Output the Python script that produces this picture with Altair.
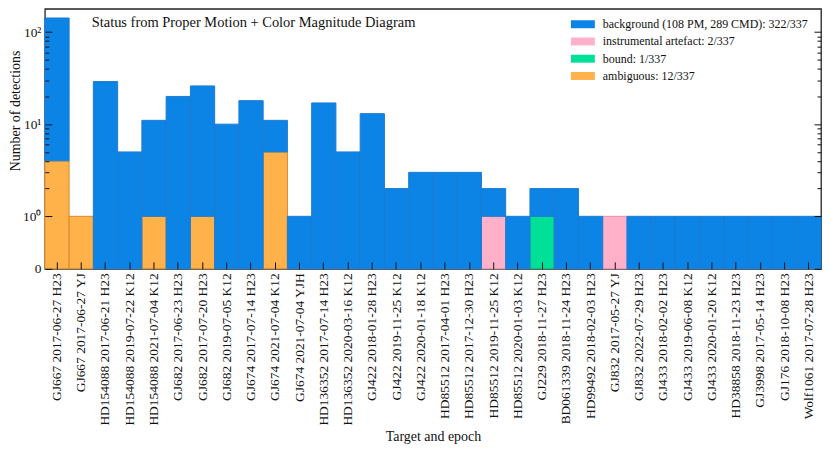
import math
import altair as alt
import pandas as pd

targets = [
    "GJ667 2017-06-27 H23", "GJ667 2017-06-27 YJ", "HD154088 2017-06-21 H23",
    "HD154088 2019-07-22 K12", "HD154088 2021-07-04 K12", "GJ682 2017-06-23 H23",
    "GJ682 2017-07-20 H23", "GJ682 2019-07-05 K12", "GJ674 2017-07-14 H23",
    "GJ674 2021-07-04 K12", "GJ674 2021-07-04 YJH", "HD136352 2017-07-14 H23",
    "HD136352 2020-03-16 K12", "GJ422 2018-01-28 H23", "GJ422 2019-11-25 K12",
    "GJ422 2020-01-18 K12", "HD85512 2017-04-01 H23", "HD85512 2017-12-30 H23",
    "HD85512 2019-11-25 K12", "HD85512 2020-01-03 K12", "GJ229 2018-11-27 H23",
    "BD061339 2018-11-24 H23", "HD99492 2018-02-03 H23", "GJ832 2017-05-27 YJ",
    "GJ832 2022-07-29 H23", "GJ433 2018-02-02 H23", "GJ433 2019-06-08 K12",
    "GJ433 2020-01-20 K12", "HD38858 2018-11-23 H23", "GJ3998 2017-05-14 H23",
    "GJ176 2018-10-08 H23", "Wolf1061 2017-07-28 H23",
]
background = [138, 0, 29, 5, 10, 20, 25, 10, 18, 6, 1, 17, 5, 13, 2, 3,
              3, 3, 1, 1, 1, 2, 1, 0, 1, 1, 1, 1, 1, 1, 1, 1]
instrumental = [0, 0, 0, 0, 0, 0, 0, 0, 0, 0, 0, 0, 0, 0, 0, 0,
                0, 0, 1, 0, 0, 0, 0, 1, 0, 0, 0, 0, 0, 0, 0, 0]
bound = [0, 0, 0, 0, 0, 0, 0, 0, 0, 0, 0, 0, 0, 0, 0, 0,
         0, 0, 0, 0, 1, 0, 0, 0, 0, 0, 0, 0, 0, 0, 0, 0]
ambiguous = [4, 1, 0, 0, 1, 0, 1, 0, 0, 5, 0, 0, 0, 0, 0, 0,
             0, 0, 0, 0, 0, 0, 0, 0, 0, 0, 0, 0, 0, 0, 0, 0]

labels = [
    "background (108 PM, 289 CMD): 322/337",
    "instrumental artefact: 2/337",
    "bound: 1/337",
    "ambiguous: 12/337",
]
fills = ["#0b84e6", "#ffb1ca", "#00e096", "#ffb14a"]
strokes = ["#1f7ad0", "#e093ad", "#14b070", "#d48a30"]
stack_order = {labels[3]: 0, labels[2]: 1, labels[1]: 2, labels[0]: 3}

rows = []
for i, t in enumerate(targets):
    for lab, series in zip(labels, [background, instrumental, bound, ambiguous]):
        if series[i] > 0:
            rows.append({"target": t, "status": lab, "count": series[i],
                         "ord": stack_order[lab]})
df = pd.DataFrame(rows)

A = 0.57  # linear part of symlog (0..1) relative to one decade
YTOP = 2.822
major = [0, A, A + 1, A + 2]
minor = [A + math.log10(v) for v in
         [2, 3, 4, 5, 6, 7, 8, 9, 20, 30, 40, 50, 60, 70, 80, 90]]

FONT = "Liberation Serif"
FS = 13.5
yscale = alt.Scale(domain=[0, YTOP], nice=False, zero=False)
label_expr = ("datum.value < 0.1 ? '0' : datum.value < %f ? '10⁰' : "
              "datum.value < %f ? '10¹' : '10²'" % (A + 0.5, A + 1.5))

base = alt.Chart(df).transform_stack(
    stack="count", as_=["lo", "hi"], groupby=["target"],
    sort=[alt.SortField("ord", order="ascending")],
).transform_calculate(
    ylo=f"datum.lo <= 1 ? datum.lo * {A} : {A} + log(datum.lo) / LN10",
    yhi=f"datum.hi <= 1 ? datum.hi * {A} : {A} + log(datum.hi) / LN10",
)

bars = base.mark_bar(strokeWidth=1).encode(
    x=alt.X("target:N", sort=targets,
            scale=alt.Scale(paddingInner=0, paddingOuter=0),
            axis=alt.Axis(title="Target and epoch", labelAngle=270,
                          tickSize=7, offset=-7, labelPadding=4,
                          domain=False, tickColor="#111",
                          titleY=175, titleBaseline="middle",
                          labelFontSize=FS, titleFontSize=14, zindex=2)),
    y=alt.Y("yhi:Q", scale=yscale,
            axis=alt.Axis(orient="left", values=major, labelExpr=label_expr,
                          tickSize=7, offset=-7, labelPadding=4, domain=False,
                          grid=False, tickColor="#111",
                          title="Number of detections", titleY=102,
                          titlePadding=0, labelFontSize=FS,
                          titleFontSize=14, zindex=2)),
    y2="ylo:Q",
    color=alt.Color("status:N", sort=labels,
                    scale=alt.Scale(domain=labels, range=fills),
                    legend=alt.Legend(title=None, orient="none",
                                      legendX=534, legendY=9.5,
                                      symbolType="M-3,-1H3V1H-3Z",
                                      symbolSize=64, labelOffset=14,
                                      rowPadding=5.3, padding=0,
                                      labelFontSize=12, labelFont=FONT,
                                      labelColor="#111",
                                      symbolStrokeWidth=0,
                                      symbolOpacity=1, labelLimit=400)),
    stroke=alt.Stroke("status:N", scale=alt.Scale(domain=labels, range=strokes),
                      legend=None),
    order=alt.Order("ord:Q"),
)


def tick_layer(values, orient, size):
    return base.mark_point(opacity=0).encode(
        y=alt.Y("yhi:Q", scale=yscale,
                axis=alt.Axis(orient=orient, values=values, labels=False,
                              tickSize=size, offset=-size, domain=False,
                              grid=False, tickColor="#111", title=None,
                              zindex=2)),
    )


title_df = pd.DataFrame({"t": ["Status from Proper Motion + Color Magnitude Diagram"]})
title = alt.Chart(title_df).mark_text(
    align="left", baseline="middle", fontSize=14.5, font=FONT, color="#111"
).encode(x=alt.value(47), y=alt.value(14), text="t:N")

chart = alt.layer(
    bars,
    tick_layer(minor, "left", 4),
    tick_layer(major, "right", 7),
    tick_layer(minor, "right", 4),
    title,
).resolve_axis(y="independent").properties(
    width=779, height=261, padding={"left": 0, "top": 0, "right": 0, "bottom": 0}
).configure(font=FONT).configure_view(
    stroke="#222", strokeWidth=1.3
).configure_axis(
    labelFont=FONT, titleFont=FONT, labelColor="#111", titleColor="#111",
    titleFontWeight="normal", labelFontSize=FS, titleFontSize=FS,
)

chart.save("out.html", embed_options={"renderer": "svg", "actions": False})
